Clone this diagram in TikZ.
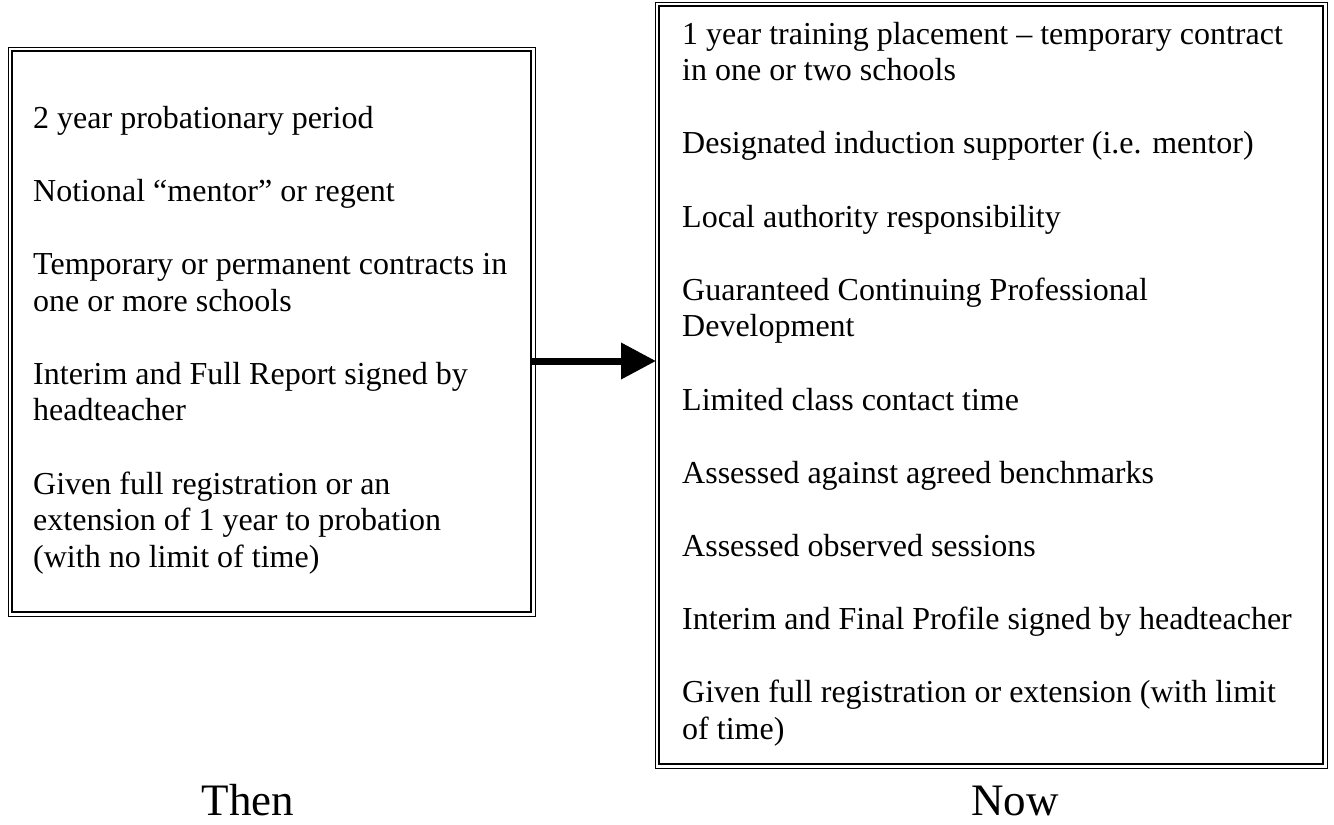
\documentclass[tikz,border=0pt]{standalone}
\usepackage{fontspec}
\setmainfont{Liberation Serif}
\usetikzlibrary{arrows.meta,calc}

\begin{document}
\begin{tikzpicture}[x=1pt,y=-1pt,
	itemtxt/.style={anchor=base west,inner sep=0pt,font=\fontsize{32}{36}\selectfont},
	capt/.style={anchor=base,inner sep=0pt,font=\fontsize{45}{50}\selectfont},
	framebox/.style={draw,line width=2.4pt,inner sep=0pt,outer sep=0pt}]
		\useasboundingbox (0,0) rectangle (1334,825);
		
		% the two frames (thick inner line)
		\node[framebox,minimum width=519pt,minimum height=561pt] (lbox) at (271.5,331.5) {};
		\node[framebox,minimum width=664pt,minimum height=758pt] (rbox) at (991,385) {};
		% thin outer line
		\draw[line width=1pt] ($(lbox.north west)+(-4,-4)$) rectangle ($(lbox.south east)+(4,4)$);
		\draw[line width=1pt] ($(rbox.north west)+(-4,-4)$) rectangle ($(rbox.south east)+(4,4)$);
		
		% then
		\foreach \i/\t in {0/{2 year probationary period},
			2/{Notional ``mentor'' or regent},
			4/{Temporary or permanent contracts in},
			5/{one or more schools},
			7/{Interim and Full Report signed by},
			8/{headteacher},
			10/{Given full registration or an},
			11/{extension of 1 year to probation},
			12/{(with no limit of time)}}
		\node[itemtxt] (l\i) at (33,128+36.6*\i) {\t};
		
		% now
		\foreach \i/\t in {0/{1 year training placement -- temporary contract},
			1/{in one or two schools},
			3/{Designated induction supporter (i.e. mentor)},
			5/{Local authority responsibility},
			7/{Guaranteed Continuing Professional},
			8/{Development},
			10/{Limited class contact time},
			12/{Assessed against agreed benchmarks},
			14/{Assessed observed sessions},
			16/{Interim and Final Profile signed by headteacher},
			18/{Given full registration or extension (with limit},
			19/{of time)}}
		\node[itemtxt] (r\i) at (682,44+36.6*\i) {\t};
		
		\coordinate (ay) at (0,361);
		\draw[line width=7pt,-{Triangle[length=35pt,width=35pt]}] (lbox.east |- ay) -- ($(rbox.west |- ay)+(-3,0)$);
		
		\node[capt] (then) at (248,815) {Then};
		\node[capt] (now) at (1015,815) {Now};
\end{tikzpicture}
\end{document}
